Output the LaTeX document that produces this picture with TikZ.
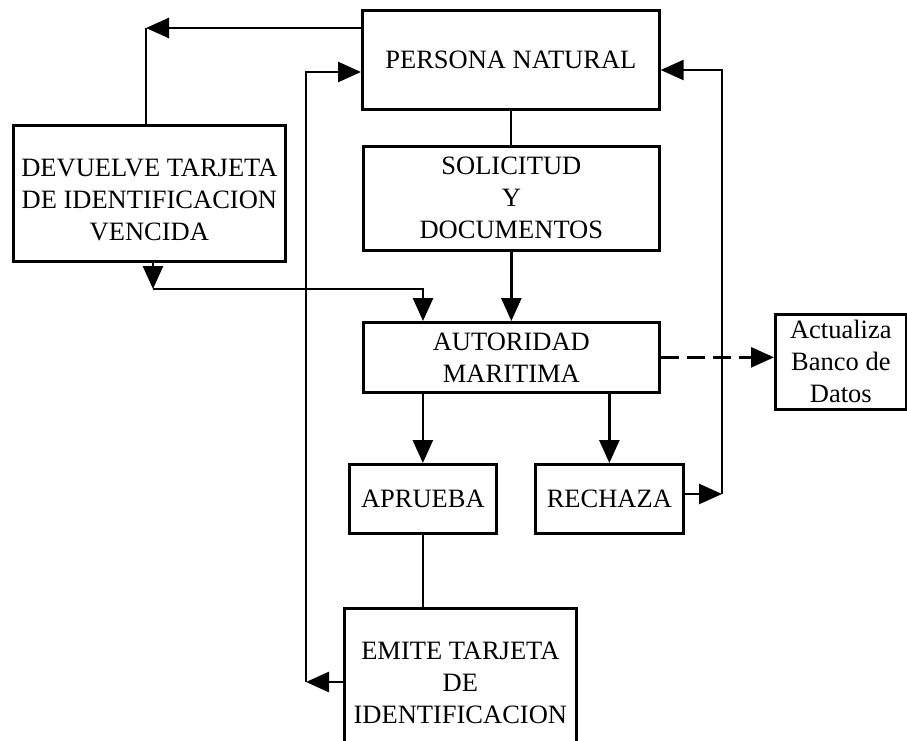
\documentclass[tikz,border=0pt]{standalone}
\usepackage{fontspec}
\setmainfont{Liberation Serif}
\usetikzlibrary{arrows.meta}
\begin{document}
\begin{tikzpicture}[x=1pt,y=-1pt,
  box/.style={draw, line width=2.7pt, inner sep=0pt, align=center, anchor=north west,
    font=\fontsize{26.5}{32}\selectfont},
  ln/.style={line width=2.7pt},
  arr/.style={line width=2.7pt, -{Triangle[length=23pt,width=20pt]}},
  dsh/.style={dash pattern=on 18pt off 8pt}]
\useasboundingbox (0,0) rectangle (907,741);
\clip (0,0) rectangle (907,741);
% boxes
\node[box, minimum width=297pt, minimum height=99pt] (per) at (361,9) {PERSONA NATURAL};
\node[box, minimum width=272pt, minimum height=136pt] (dev) at (12,124) {\rule{0pt}{30pt}DEVUELVE TARJETA\\DE IDENTIFICACION\\VENCIDA};
\node[box, minimum width=296pt, minimum height=104pt] (sol) at (362,145) {SOLICITUD\\Y\\DOCUMENTOS};
\node[box, minimum width=296pt, minimum height=70pt] (aut) at (362,321) {AUTORIDAD\\MARITIMA};
\node[box, minimum width=131pt, minimum height=95pt] (act) at (774,313) {Actualiza\\Banco de\\Datos};
\node[box, minimum width=147pt, minimum height=69pt] (apr) at (348,463) {APRUEBA};
\node[box, minimum width=148pt, minimum height=69pt] (rec) at (534,463) {RECHAZA};
\node[box, minimum width=232pt, minimum height=149pt] (emi) at (343,607) {EMITE TARJETA\\DE\\IDENTIFICACION};
% corner coordinates
\coordinate (c1) at (146,28);
\coordinate (c2) at (306,682);
\coordinate (c3) at (306,72);
\coordinate (c4) at (722,494);
\coordinate (c5) at (722,70);
\coordinate (c6) at (153,289);
\coordinate (c7) at (423,289);
% connectors
\draw[arr] (per.west |- c1) -- (c1);
\draw[ln] (dev.north -| c1) -- (c1);
\draw[arr] (emi.west |- c2) -- (c2);
\draw[arr] (c2) -- (c3) -- (per.west |- c3);
\draw[arr] (rec.east |- c4) -- (c4);
\draw[arr] (c4) -- (c5) -- (per.east |- c5);
\draw[arr] (dev.south -| c6) -- (c6);
\draw[arr] (c6) -- (c7) -- (aut.north -| c7);
\draw[ln] (per.south) -- (per.south |- sol.north);
\draw[arr] (sol.south) -- (sol.south |- aut.north);
\draw[arr] (apr.north |- aut.south) -- (apr.north);
\draw[arr] (rec.north |- aut.south) -- (rec.north);
\draw[ln] (apr.south) -- (apr.south |- emi.north);
\draw[arr, dsh] (aut.east) -- (aut.east -| act.west);
\end{tikzpicture}
\end{document}
